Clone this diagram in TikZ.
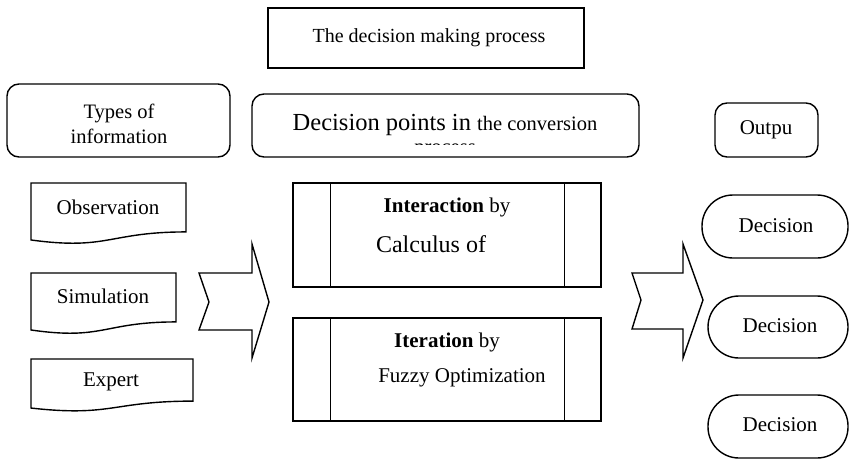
\documentclass[tikz,border=0pt]{standalone}
\usepackage{fontspec}
\setmainfont{Liberation Serif}
\usetikzlibrary{fit}
\begin{document}
\begin{tikzpicture}[x=1pt,y=-1pt,
  line/.style={line width=1.4pt, line join=miter},
  box/.style={draw, line, inner sep=0pt},
  roundbox/.style={box, rounded corners=12pt},
  stadium/.style={box, rounded corners=31pt},
  txt/.style={inner sep=0pt, font=\fontsize{21}{25}\selectfont},
  smalltxt/.style={inner sep=0pt, font=\fontsize{20.5}{25}\selectfont}]
\useasboundingbox (0,0) rectangle (850,460);

% heading
\node[box, fit={(268,8)(584,68)}] (title) {};
\node[txt, font=\fontsize{20}{24}\selectfont] (titletxt) at (429,38) {The decision making process};

% column headings
\node[roundbox, fit={(7,84)(230,157)}] (types) {};
\node[smalltxt, align=center] (typestxt) at (119,124) {Types of\\information};

\node[roundbox, fit={(252,94)(639,157)}] (points) {};
\node[inner sep=0pt, anchor=base] (pointstxt) at (445,130)
  {\fontsize{24.5}{28}\selectfont Decision points in \fontsize{20.5}{25}\selectfont the conversion};
\begin{scope}
  \clip (252,94) rectangle (639,144);
  \node[smalltxt, anchor=base] (pointstxt2) at (445,153) {process};
\end{scope}

\node[roundbox, fit={(715,103)(818,157)}] (output) {};
\node[txt] (outputtxt) at (766,130) {Outpu};

% information sources (document shapes)
\newcommand{\docshape}[4]{%
  \draw[line] (#1,#3) -- (#2,#3) -- (#2,{#3+0.802*#4})
    .. controls ({(#1+#2)/2},{#3+0.802*#4}) and ({(#1+#2)/2},{#3+1.107*#4})
    .. (#1,{#3+0.934*#4}) -- cycle;}
\docshape{31}{186}{183}{61}
\node[txt] (obs) at (108,207) {Observation};
\docshape{31}{176}{273}{61}
\node[txt] (sim) at (103,296) {Simulation};
\docshape{31}{193}{359}{52.5}
\node[txt] (exp) at (111,382) {Expert};

% block arrows
\draw[line] (199,273) -- (252,273) -- (252,244) -- (269,302) -- (252,358)
  -- (252,330) -- (199,330) -- (209,302) -- cycle;
\draw[line] (632,273) -- (683,273) -- (683,244) -- (703,300) -- (683,358)
  -- (683,329) -- (632,329) -- (641,300) -- cycle;

% conversion processes
\node[box, fit={(293,183)(601,287)}] (p1) {};
\node[box, fit={(293,318)(601,421)}] (p2) {};
\foreach \p in {p1,p2}{
  \draw[line] ([xshift=38pt]\p.north west) -- ([xshift=38pt]\p.south west);
  \draw[line] ([xshift=-37pt]\p.north east) -- ([xshift=-37pt]\p.south east);
}
\node[txt] (p1a) at (447,207) {\textbf{Interaction} by};
\node[txt, font=\fontsize{24}{28}\selectfont] (p1b) at (431,244) {Calculus of};
\node[txt] (p2a) at (447,342) {\textbf{Iteration} by};
\node[txt] (p2b) at (462,378) {Fuzzy Optimization};

% decisions
\node[stadium, fit={(702,195)(848,258)}] (d1) {};
\node[txt] (d1txt) at (776,226) {Decision};
\node[stadium, fit={(708,296)(848,358)}] (d2) {};
\node[txt] (d2txt) at (780,326) {Decision};
\node[stadium, fit={(708,395)(848,458)}] (d3) {};
\node[txt] (d3txt) at (780,425) {Decision};
\end{tikzpicture}
\end{document}
